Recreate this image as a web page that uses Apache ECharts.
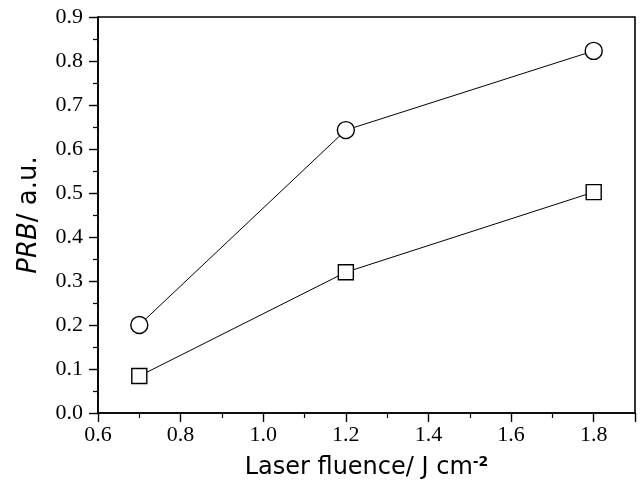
<!DOCTYPE html>
<html>
<head>
<meta charset="utf-8">
<script src="https://cdn.jsdelivr.net/npm/echarts@6/dist/echarts.min.js"></script>
<style>
  html, body { margin: 0; padding: 0; background: #fff; }
  #chart { width: 640px; height: 486px; }
</style>
</head>
<body>
<div id="chart"></div>
<script>
const fluence = [0.7, 1.2, 1.8];
const circleValues = [0.200, 0.643, 0.823];
const squareValues = [0.084, 0.320, 0.502];

const toPairs = (xs, ys) => xs.map((x, i) => [x, ys[i]]);

const chart = echarts.init(document.getElementById('chart'));

const titleFont = 'DejaVu Sans, Verdana, sans-serif';

const axisCommon = {
  axisLine: { show: true, onZero: false, lineStyle: { color: '#000', width: 1.6 } },
  axisTick: { show: true, inside: false, length: 9, lineStyle: { color: '#000', width: 1.4 } },
  minorTick: { show: true, splitNumber: 2, length: 5, lineStyle: { color: '#000', width: 1.2 } },
  splitLine: { show: false },
  axisLabel: {
    color: '#000',
    fontFamily: 'Liberation Serif, Times New Roman, serif',
    fontSize: 22,
    formatter: (v) => v.toFixed(1)
  }
};

const option = {
  animation: false,
  backgroundColor: '#fff',
  grid: {
    left: 98, right: 5, top: 17, bottom: 73,
    show: true, borderColor: '#000', borderWidth: 1.6
  },
  xAxis: Object.assign({}, axisCommon, {
    type: 'value',
    min: 0.6, max: 1.9, interval: 0.2,
    axisLabel: Object.assign({}, axisCommon.axisLabel, {
      margin: 11,
      showMaxLabel: false
    }),
    name: 'Laser fluence/ J cm{sup|-2}',
    nameLocation: 'middle',
    nameGap: 42,
    nameTextStyle: {
      color: '#000',
      fontFamily: titleFont,
      fontSize: 24,
      rich: {
        sup: { fontSize: 14, verticalAlign: 'top', padding: [0, 0, 12, 0], fontFamily: titleFont, fontWeight: 'bold', color: '#000' }
      }
    }
  }),
  yAxis: Object.assign({}, axisCommon, {
    type: 'value',
    min: 0, max: 0.9, interval: 0.1,
    axisLabel: Object.assign({}, axisCommon.axisLabel, { margin: 15 }),
    name: '{it|PRB}/ a.u.',
    nameLocation: 'middle',
    nameGap: 56,
    nameRotate: 90,
    nameTextStyle: {
      color: '#000',
      fontFamily: titleFont,
      fontSize: 26,
      padding: [0, 0, 0, 0],
      rich: {
        it: { fontStyle: 'italic', fontSize: 26, fontFamily: titleFont, color: '#000' }
      }
    }
  }),
  series: [
    {
      name: 'circle',
      type: 'line',
      data: toPairs(fluence, circleValues),
      symbol: 'circle',
      symbolSize: 17,
      itemStyle: { color: '#fff', borderColor: '#000', borderWidth: 1.4 },
      lineStyle: { color: '#000', width: 1 },
      z: 3
    },
    {
      name: 'square',
      type: 'line',
      data: toPairs(fluence, squareValues),
      symbol: 'rect',
      symbolSize: 15,
      itemStyle: { color: '#fff', borderColor: '#000', borderWidth: 1.4 },
      lineStyle: { color: '#000', width: 1 },
      z: 3
    }
  ]
};

chart.setOption(option);
</script>
</body>
</html>
